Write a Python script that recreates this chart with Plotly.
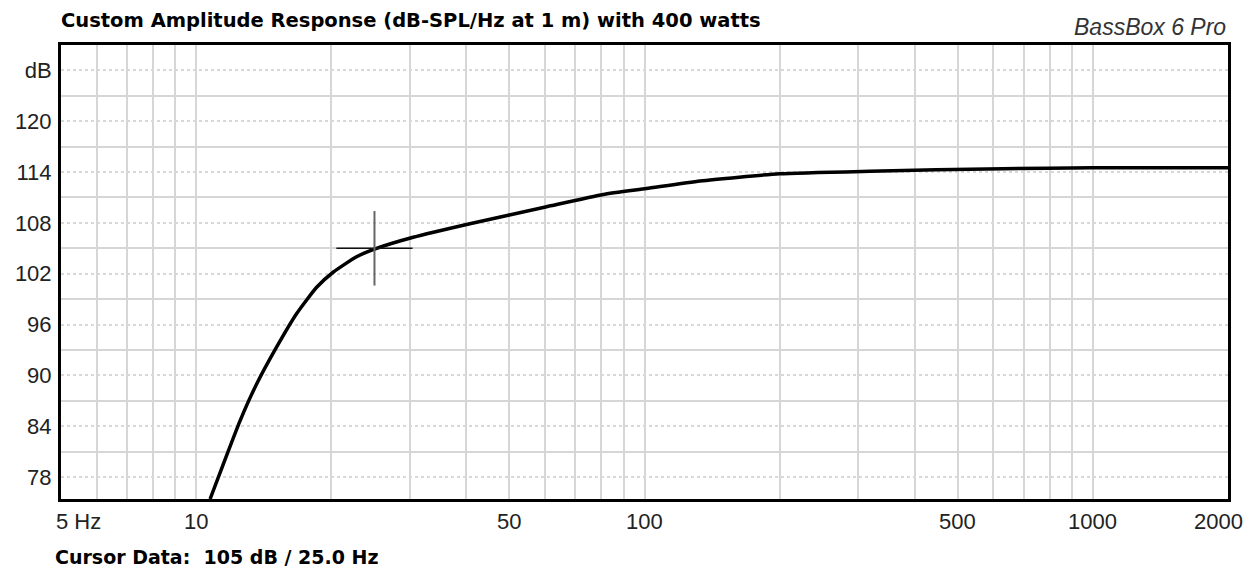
import numpy as np
import plotly.graph_objects as go

# ---- data ----
freq_hz = [10.75, 11.5, 12.53, 13.66, 15.13, 16.77, 18.58, 20.25, 22.8, 25.0,
           30.5, 40.8, 60.5, 80.9, 101, 133, 200, 318, 630, 1000, 2000]
spl_db = [75.4, 79.5, 84.6, 89.0, 93.35, 97.3, 100.4, 102.2, 104.0, 104.9,
          106.3, 107.9, 109.9, 111.35, 112.05, 112.95, 113.8, 114.1, 114.4, 114.5, 114.5]

cursor_freq = 25.0
cursor_db = 105.0

x_tick_vals = [5, 10, 50, 100, 500, 1000, 2000]
x_tick_text = ["5 Hz", "10", "50", "100", "500", "1000", "2000"]
x_grid_vals = [6, 7, 8, 9, 10, 20, 30, 40, 50, 60, 70, 80, 90, 100,
               200, 300, 400, 500, 600, 700, 800, 900, 1000]
y_tick_vals = [78, 84, 90, 96, 102, 108, 114, 120, 126]
y_tick_text = ["78", "84", "90", "96", "102", "108", "114", "120", "dB"]
y_minor_vals = [81, 87, 93, 99, 105, 111, 117, 123]

title_text = "Custom Amplitude Response (dB-SPL/Hz at 1 m) with 400 watts"
brand_text = "BassBox 6 Pro"
cursor_text = "Cursor Data:  105 dB / 25.0 Hz"

fig = go.Figure()

fig.add_trace(go.Scatter(x=freq_hz, y=spl_db, mode="lines",
                         line=dict(color="black", width=3.5, shape="spline", smoothing=0.5),
                         hoverinfo="skip", showlegend=False))

# cursor crosshair
h_half = 0.085   # decades
v_half = 4.4     # dB
fig.add_trace(go.Scatter(x=[cursor_freq / 10**h_half, cursor_freq * 10**h_half],
                         y=[cursor_db, cursor_db], mode="lines",
                         line=dict(color="#111111", width=1.5),
                         hoverinfo="skip", showlegend=False))
fig.add_trace(go.Scatter(x=[cursor_freq, cursor_freq],
                         y=[cursor_db - v_half, cursor_db + v_half], mode="lines",
                         line=dict(color="#666666", width=2),
                         hoverinfo="skip", showlegend=False))

label_font = dict(family="Liberation Sans, Arial", size=22, color="#222222")

fig.update_layout(
    width=1255, height=571,
    margin=dict(l=61, r=27, t=45, b=72),
    paper_bgcolor="white", plot_bgcolor="white",
    font=label_font,
    xaxis=dict(type="log", range=[np.log10(5), np.log10(2000)],
               tickvals=x_grid_vals, showticklabels=False, ticks="",
               showgrid=True, gridcolor="#d6d6d6", gridwidth=2,
               showline=True, linecolor="black", linewidth=3, mirror=True,
               zeroline=False, fixedrange=True),
    yaxis=dict(range=[75.4, 129], tickvals=y_tick_vals, ticktext=y_tick_text,
               ticks="", showgrid=True, gridcolor="#d8d8d8", gridwidth=2, griddash="dot",
               minor=dict(tickvals=y_minor_vals, showgrid=True, gridcolor="#d6d6d6",
                          gridwidth=2, griddash="solid", ticks=""),
               showline=True, linecolor="black", linewidth=3, mirror=True,
               zeroline=False, ticklabelstandoff=2, fixedrange=True,
               tickfont=label_font),
)

annotations = []
for v, t in zip(x_tick_vals, x_tick_text):
    xa, xs = "center", 0
    if t == "5 Hz":
        xa, xs = "left", -7
    elif t == "2000":
        xs = -10
    annotations.append(dict(x=np.log10(v), y=0, xref="x", yref="paper",
                            text=t, showarrow=False, xanchor=xa, yanchor="top",
                            xshift=xs, yshift=-8, font=label_font))

annotations.append(dict(x=0, y=1, xref="paper", yref="paper", text="<b>" + title_text + "</b>",
                        showarrow=False, xanchor="left", yanchor="bottom", yshift=11, xshift=-2,
                        font=dict(family="DejaVu Sans", size=19.5, color="black")))
annotations.append(dict(x=1, y=1, xref="paper", yref="paper", text="<i>" + brand_text + "</i>",
                        showarrow=False, xanchor="right", yanchor="bottom", yshift=3,
                        font=dict(family="Liberation Sans, Arial", size=23, color="#333333")))
annotations.append(dict(x=0, y=0, xref="paper", yref="paper", text="<b>" + cursor_text + "</b>",
                        showarrow=False, xanchor="left", yanchor="top", yshift=-45, xshift=-8,
                        font=dict(family="DejaVu Sans", size=19, color="black")))
fig.update_layout(annotations=annotations)

fig.write_html("out.html", config={"displayModeBar": False},
               post_script="document.body.style.margin='0px';")
